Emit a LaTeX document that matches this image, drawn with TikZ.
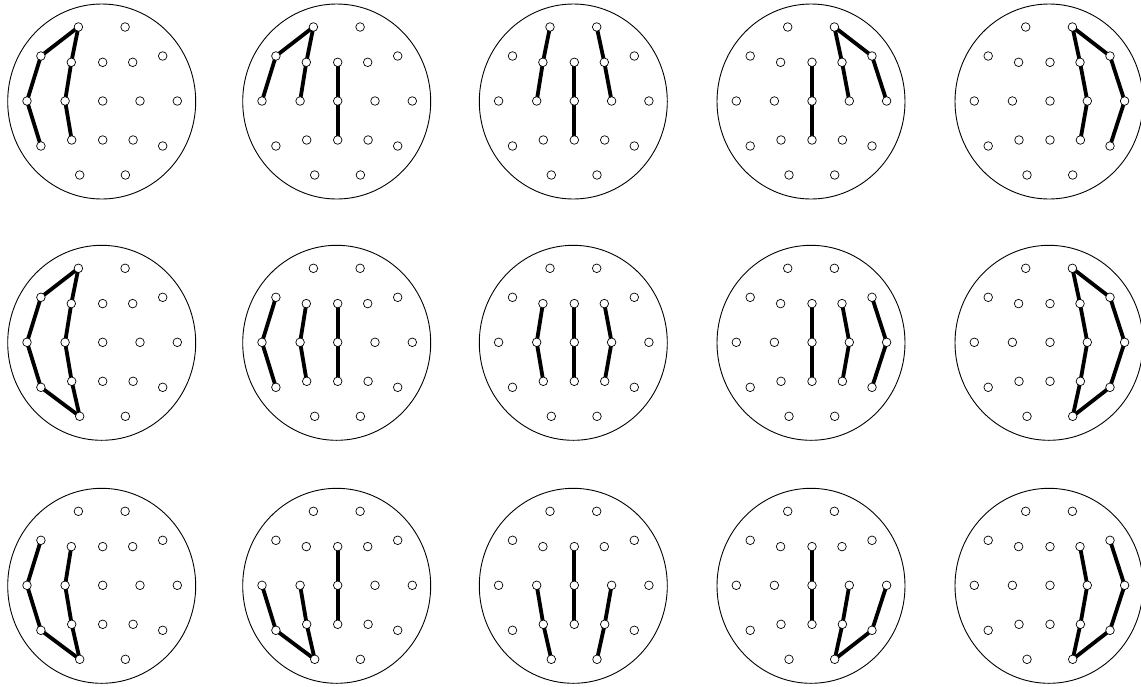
\documentclass[tikz,border=0pt]{standalone}
\pgfdeclarelayer{bg}
\pgfsetlayers{bg,main}
\tikzset{
  elec/.style={circle,draw,fill=white,line width=0.7pt,inner sep=0pt,minimum size=8.6pt},
  head/.style={draw,line width=0.9pt},
  link/.style={line width=3.8pt,line join=round},
}
\newcommand\headpanel[3]{%
  \begin{scope}[shift={(#2,#3)}]
    \draw[head] (-1,0.5) ellipse [x radius=94, y radius=97.5];
    \foreach \n/\a/\b in {Fp1/-24.3/-74, Fp2/22.4/-74,
        F7/-61.8/-45, F3/-31.4/-38.7, Fz/0/-38.7, F4/30/-38.7, F8/60/-45,
        T3/-75.7/0, C3/-37.6/0, Cz/0/0, C4/37.3/0, T4/74.6/0,
        T5/-61.8/45, P3/-31/39, Pz/0/39, P4/30.4/39, T6/60/45,
        O1/-23/74, O2/22.7/74}
      \node[elec] (#1\n) at (\a,\b) {};
  \end{scope}}
\newcommand\chain[3]{\draw[link] (#1#2.center) \foreach \n in {#3} { -- (#1\n.center)};}
\begin{document}
\begin{tikzpicture}[x=1pt,y=-1pt]
\useasboundingbox (0,0) rectangle (1141,686);
\headpanel{A1}{102.7}{101}
\headpanel{A2}{337.7}{101}
\headpanel{A3}{574.3}{101}
\headpanel{A4}{812}{101}
\headpanel{A5}{1050}{101}
\headpanel{B1}{102.7}{342.3}
\headpanel{B2}{337.7}{342.3}
\headpanel{B3}{574.3}{342.3}
\headpanel{B4}{812}{342.3}
\headpanel{B5}{1050}{342.3}
\headpanel{C1}{102.7}{585.3}
\headpanel{C2}{337.7}{585.3}
\headpanel{C3}{574.3}{585.3}
\headpanel{C4}{812}{585.3}
\headpanel{C5}{1050}{585.3}
\begin{pgfonlayer}{bg}
% row 1
\chain{A1}{Fp1}{F7,T3,T5}
\chain{A1}{Fp1}{F3,C3,P3}
\chain{A2}{Fp1}{F7,T3}
\chain{A2}{Fp1}{F3,C3}
\chain{A2}{Fz}{Cz,Pz}
\chain{A3}{Fp1}{F3,C3}
\chain{A3}{Fz}{Cz,Pz}
\chain{A3}{Fp2}{F4,C4}
\chain{A4}{Fz}{Cz,Pz}
\chain{A4}{Fp2}{F4,C4}
\chain{A4}{Fp2}{F8,T4}
\chain{A5}{Fp2}{F4,C4,P4}
\chain{A5}{Fp2}{F8,T4,T6}
% row 2
\chain{B1}{Fp1}{F7,T3,T5,O1}
\chain{B1}{Fp1}{F3,C3,P3,O1}
\chain{B2}{F7}{T3,T5}
\chain{B2}{F3}{C3,P3}
\chain{B2}{Fz}{Cz,Pz}
\chain{B3}{F3}{C3,P3}
\chain{B3}{Fz}{Cz,Pz}
\chain{B3}{F4}{C4,P4}
\chain{B4}{Fz}{Cz,Pz}
\chain{B4}{F4}{C4,P4}
\chain{B4}{F8}{T4,T6}
\chain{B5}{Fp2}{F8,T4,T6,O2}
\chain{B5}{Fp2}{F4,C4,P4,O2}
% row 3
\chain{C1}{F7}{T3,T5,O1}
\chain{C1}{F3}{C3,P3,O1}
\chain{C2}{T3}{T5,O1}
\chain{C2}{C3}{P3,O1}
\chain{C2}{Fz}{Cz,Pz}
\chain{C3}{C3}{P3,O1}
\chain{C3}{Fz}{Cz,Pz}
\chain{C3}{C4}{P4,O2}
\chain{C4}{Fz}{Cz,Pz}
\chain{C4}{C4}{P4,O2}
\chain{C4}{T4}{T6,O2}
\chain{C5}{F4}{C4,P4,O2}
\chain{C5}{F8}{T4,T6,O2}
\end{pgfonlayer}
\end{tikzpicture}
\end{document}
